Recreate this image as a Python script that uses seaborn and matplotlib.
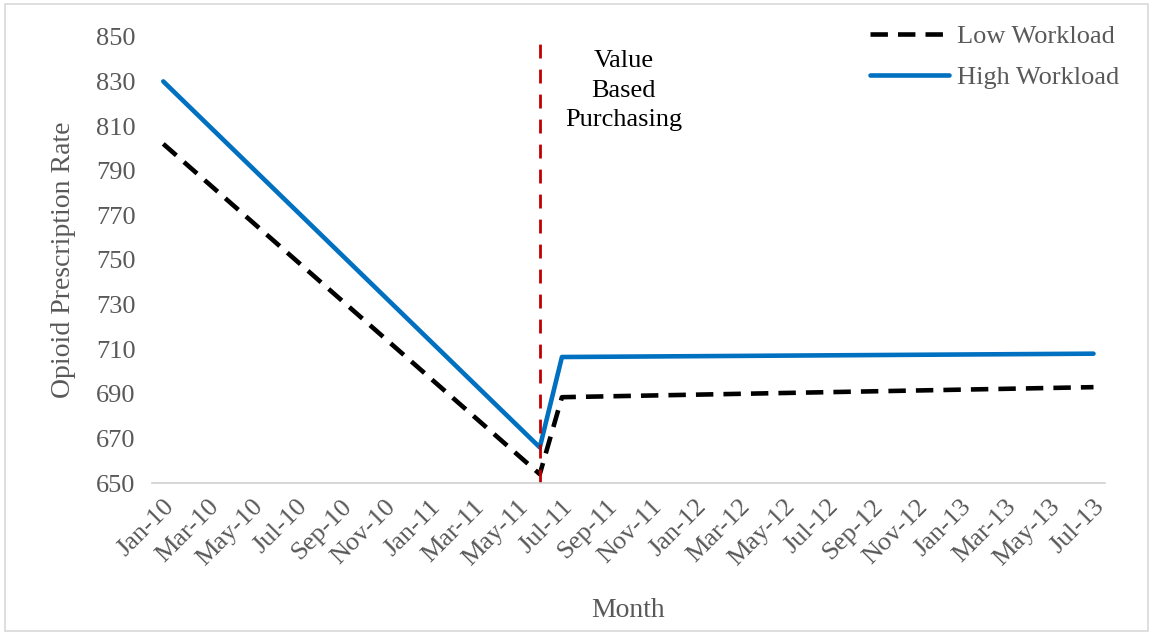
import pandas as pd
import numpy as np
import matplotlib
matplotlib.use("Agg")
import matplotlib.pyplot as plt
import seaborn as sns
from matplotlib.patches import Rectangle

# months on the category axis, Jan-10 .. Jul-13
months = list(pd.date_range("2010-01-01", "2013-07-01", freq="MS").strftime("%b-%y"))

# values at the points where the lines bend
key_months = ["Jan-10", "Jun-11", "Jul-11", "Jul-13"]
low_values = [802, 654, 688.5, 693]
high_values = [830, 666, 706.5, 708]
event_month = "Jun-11"
event_label = "Value\nBased\nPurchasing"

sns.set_theme(style="white")
plt.rcParams["font.family"] = ["Liberation Serif", "DejaVu Serif"]
grey = "#595959"

df = pd.DataFrame({
    "month": key_months * 2,
    "rate": low_values + high_values,
    "group": ["Low Workload"] * 4 + ["High Workload"] * 4,
})
df["pos"] = df["month"].map({m: i for i, m in enumerate(months)})

fig = plt.figure(figsize=(11.53, 6.34), dpi=100)
ax = fig.add_axes([0.132, 0.238, 0.826, 0.704])

low = df[df["group"] == "Low Workload"]
high = df[df["group"] == "High Workload"]
sns.lineplot(data=low, x="pos", y="rate", ax=ax, color="black", linewidth=3.3,
             label="Low Workload", sort=False)
sns.lineplot(data=high, x="pos", y="rate", ax=ax, color="#0070C0", linewidth=3.3,
             label="High Workload", sort=False)
ax.lines[0].set_dashes([3.8, 2.2])

# policy start marker
ev = months.index(event_month)
ax.axvline(ev, ymin=0, ymax=1.0, color="#C00000", linewidth=2, dashes=(5, 4))
ax.text(ev + 3.8, 844, event_label, ha="center", va="top", fontsize=19,
        color="black", linespacing=1.45)

ax.set_xlim(-0.5, len(months) - 0.5)
ax.set_ylim(650, 850)
ax.set_yticks(np.arange(650, 851, 20))
ax.set_xticks(range(0, len(months), 2))
ax.set_xticklabels(months[::2], rotation=45, ha="right", rotation_mode="anchor")
ax.tick_params(axis="both", colors=grey, labelsize=19, length=0)
ax.tick_params(axis="x", pad=9)
ax.tick_params(axis="y", pad=12)

for s in ["top", "right", "left"]:
    ax.spines[s].set_visible(False)
ax.spines["bottom"].set_color("#D0D0D0")
ax.spines["bottom"].set_linewidth(1.2)

ax.set_xlabel("Month", fontsize=20, color=grey, labelpad=20)
ax.set_ylabel("Opioid Prescription Rate", fontsize=20, color=grey, labelpad=14)

leg = ax.legend(loc="upper right", bbox_to_anchor=(1.04, 1.08), frameon=False,
                fontsize=19, handlelength=3.0, handletextpad=0.3, labelspacing=0.65,
                labelcolor=grey)

fig.add_artist(Rectangle((0.004, 0.004), 0.992, 0.989, transform=fig.transFigure,
                         fill=False, edgecolor="#D9D9D9", linewidth=1.2))

fig.savefig("out.png", dpi=100)
